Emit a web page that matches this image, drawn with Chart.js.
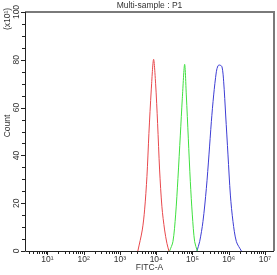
<!DOCTYPE html>
<html>
<head>
<meta charset="utf-8">
<script src="https://cdn.jsdelivr.net/npm/chart.js@4.4.1/dist/chart.umd.min.js"></script>
<style>
html,body{margin:0;padding:0;background:#fff;}
canvas{display:block;}
</style>
</head>
<body>
<canvas id="c" width="277" height="275"></canvas>
<script>
// ---- data ----
const chartTitle = "Multi-sample : P1";
const xTitle = "FITC-A";
const yTitle = "Count";
const yMultiplier = "(x10\u00B9)";
const xMajorTicks = [10, 100, 1000, 10000, 100000, 1000000, 10000000];
const xTickLabels = ["10\u00B9","10\u00B2","10\u00B3","10\u2074","10\u2075","10\u2076","10\u2077"];
const yTickValues = [0, 20, 40, 60, 80, 100];
const yTickLabels = ["0", "20", "40", "60", "80", "100"];

const redX = [3120, 4130, 4790, 5550, 6300, 7310, 8470, 9620, 10940, 12420, 14390, 17060, 19770, 22440];
const redY = [0, 8.8, 17.2, 31.1, 49.2, 67.4, 80.2, 70.2, 53.4, 33.9, 18.5, 8.8, 3.2, 0];
const greenX = [23440, 28970, 34360, 39810, 46340, 52600, 60950, 67760, 76910, 87500, 99310, 115100, 136500];
const greenY = [0, 3.9, 15.1, 30.4, 48.5, 63.9, 78.1, 65.3, 47.2, 29.0, 15.1, 3.9, 0];
const blueX = [133000, 158100, 195000, 242100, 285800, 332700, 385500, 457100, 505800, 563600, 653100, 727800, 826000, 957100, 1114000, 1315000, 1633000, 2244000];
const blueY = [0, 3.9, 12.3, 26.2, 40.2, 54.1, 65.3, 75.0, 77.5, 77.8, 77.1, 70.8, 56.9, 40.2, 23.4, 12.3, 3.9, 0];

const xMin = 2.4, xMax = 1.78e7;
const yMin = 0, yMax = 100;

function pts(xs, ys){ return xs.map((x,i)=>({x:x, y:ys[i]})); }

// all log ticks (1..9 x 10^k) within range
const allXTicks = [];
for (let k = 0; k <= 7; k++) {
  for (let m = 1; m <= 9; m++) {
    const v = m * Math.pow(10, k);
    if (v >= xMin && v <= xMax) allXTicks.push(v);
  }
}
const yMinorTicks = [];
for (let v = yMin; v <= yMax; v += 5) yMinorTicks.push(v);

const FONT = "Liberation Sans, Arial, sans-serif";
const TXT = "#333333";

const decor = {
  id: 'decor',
  afterDraw(chart) {
    const ctx = chart.ctx;
    const a = chart.chartArea;
    const xs = chart.scales.x, ys = chart.scales.y;
    ctx.save();
    // frame: top/right gray thicker, left/bottom dark thin
    ctx.strokeStyle = '#7a7a7a';
    ctx.lineWidth = 2;
    ctx.beginPath();
    ctx.moveTo(a.left, a.top); ctx.lineTo(a.right, a.top); ctx.lineTo(a.right, a.bottom);
    ctx.stroke();
    ctx.strokeStyle = '#222';
    ctx.lineWidth = 1;
    ctx.beginPath();
    ctx.moveTo(a.left + 0.5, a.top); ctx.lineTo(a.left + 0.5, a.bottom + 0.5); ctx.lineTo(a.right, a.bottom + 0.5);
    ctx.stroke();
    // x ticks
    ctx.beginPath();
    allXTicks.forEach(v => {
      const px = Math.round(xs.getPixelForValue(v)) + 0.5;
      const major = xMajorTicks.includes(v);
      ctx.moveTo(px, a.bottom); ctx.lineTo(px, a.bottom + (major ? 4 : 3));
    });
    // y ticks
    yMinorTicks.forEach(v => {
      const py = Math.round(ys.getPixelForValue(v)) + 0.5;
      const major = yTickValues.includes(v);
      ctx.moveTo(a.left, py); ctx.lineTo(a.left - (major ? 4 : 3), py);
    });
    ctx.stroke();
    // y labels rotated
    ctx.fillStyle = TXT;
    ctx.font = "8.5px " + FONT;
    ctx.textAlign = 'center';
    ctx.textBaseline = 'alphabetic';
    yTickValues.forEach((v, i) => {
      const py = ys.getPixelForValue(v);
      ctx.save();
      ctx.translate(a.left - 6, py);
      ctx.rotate(-Math.PI / 2);
      ctx.fillText(yTickLabels[i], 0, 0);
      ctx.restore();
    });
    // title
    ctx.textBaseline = 'middle';
    ctx.fillText(chartTitle, (a.left + a.right) / 2, 6);
    // x title
    ctx.fillText(xTitle, (a.left + a.right) / 2, 268);
    // y title and multiplier
    ctx.save();
    ctx.translate(8, 126);
    ctx.rotate(-Math.PI / 2);
    ctx.fillText(yTitle, 0, 0);
    ctx.restore();
    ctx.save();
    ctx.translate(8, 19);
    ctx.rotate(-Math.PI / 2);
    ctx.fillText(yMultiplier, 0, 0);
    ctx.restore();
    ctx.restore();
  }
};

new Chart(document.getElementById('c'), {
  type: 'line',
  data: {
    datasets: [
      { data: pts(redX, redY), borderColor: '#e8484c', borderWidth: 1, pointRadius: 0, tension: 0.3, fill: false },
      { data: pts(greenX, greenY), borderColor: '#3fe03f', borderWidth: 1, pointRadius: 0, tension: 0.3, fill: false },
      { data: pts(blueX, blueY), borderColor: '#3d3dd4', borderWidth: 1, pointRadius: 0, tension: 0.3, fill: false }
    ]
  },
  options: {
    responsive: false,
    animation: false,
    devicePixelRatio: 1,
    layout: { padding: { left: 0, right: 3, top: 12, bottom: 0 } },
    plugins: { legend: { display: false }, tooltip: { enabled: false }, title: { display: false } },
    scales: {
      x: {
        type: 'logarithmic', min: xMin, max: xMax,
        grid: { display: false, drawTicks: false, tickLength: 0 }, border: { display: false },
        afterBuildTicks: (s) => { s.ticks = allXTicks.map(v => ({ value: v })); },
        afterFit: (s) => { s.height = 24; },
        ticks: {
          autoSkip: false, maxRotation: 0, minRotation: 0, padding: 4,
          color: TXT, font: { size: 8.5, family: FONT },
          callback: function(value) {
            const i = xMajorTicks.indexOf(value);
            return i >= 0 ? xTickLabels[i] : '';
          }
        }
      },
      y: {
        type: 'linear', min: yMin, max: yMax,
        grid: { display: false }, border: { display: false },
        afterFit: (s) => { s.width = 25; },
        ticks: { display: false, stepSize: 20 }
      }
    }
  },
  plugins: [decor]
});
</script>
</body>
</html>
